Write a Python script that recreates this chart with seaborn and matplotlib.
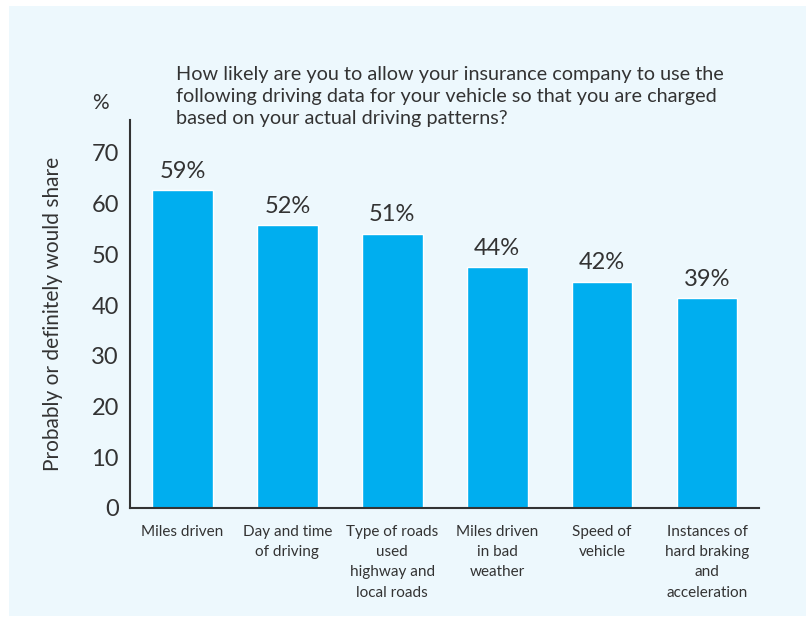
import matplotlib
matplotlib.use("Agg")
import matplotlib.pyplot as plt
import matplotlib.patches as mpatches
import seaborn as sns

categories = [
    "Miles driven",
    "Day and time\nof driving",
    "Type of roads\nused\nhighway and\nlocal roads",
    "Miles driven\nin bad\nweather",
    "Speed of\nvehicle",
    "Instances of\nhard braking\nand\nacceleration",
]
# bar heights as drawn in the original (they sit a bit above the printed figures)
bar_heights = [62.6, 55.7, 54.1, 47.4, 44.6, 41.4]
bar_labels = ["59%", "52%", "51%", "44%", "42%", "39%"]
y_ticks = [0, 10, 20, 30, 40, 50, 60, 70]

title = ("How likely are you to allow your insurance company to use the\n"
         "following driving data for your vehicle so that you are charged\n"
         "based on your actual driving patterns?")

bg = "#EDF8FD"
bar_color = "#00AEEF"
text_color = "#333333"

sns.set_theme(style="white")
plt.rcParams["font.family"] = ["Lato", "DejaVu Sans"]

fig = plt.figure(figsize=(8.09, 6.21), dpi=100)
fig.patch.set_facecolor("white")
fig.patches.append(mpatches.Rectangle((0.011, 0.008), 0.985, 0.982,
                                      transform=fig.transFigure,
                                      facecolor=bg, edgecolor="none", zorder=-1))

ax = fig.add_axes([0.1607, 0.182, 0.778, 0.625])
ax.set_facecolor(bg)

sns.barplot(x=categories, y=bar_heights, color=bar_color, width=0.58,
            saturation=1, ax=ax)
ax.bar_label(ax.containers[0], labels=bar_labels, padding=6,
             fontsize=17, color=text_color)

ax.set_xlim(-0.5, 5.5)
ax.set_ylim(0, 76.5)
ax.set_yticks(y_ticks)
ax.set_yticklabels([str(t) for t in y_ticks], fontsize=17, color=text_color)
ax.tick_params(axis="y", length=0, pad=8)
ax.tick_params(axis="x", length=0, pad=12, labelsize=11, labelcolor=text_color)
for lbl in ax.get_xticklabels():
    lbl.set_linespacing(1.58)

for side in ["top", "right"]:
    ax.spines[side].set_visible(False)
for side in ["left", "bottom"]:
    ax.spines[side].set_color(text_color)
    ax.spines[side].set_linewidth(1.5)

ax.set_ylabel("Probably or definitely would share", fontsize=15,
              color=text_color, labelpad=20)

fig.text(0.2175, 0.845, title, fontsize=14.3, color=text_color,
         va="center", ha="left", linespacing=1.35)
fig.text(0.124, 0.834, "%", fontsize=15, color=text_color,
         va="center", ha="center")

fig.savefig("out.png", dpi=100, facecolor=fig.get_facecolor())
